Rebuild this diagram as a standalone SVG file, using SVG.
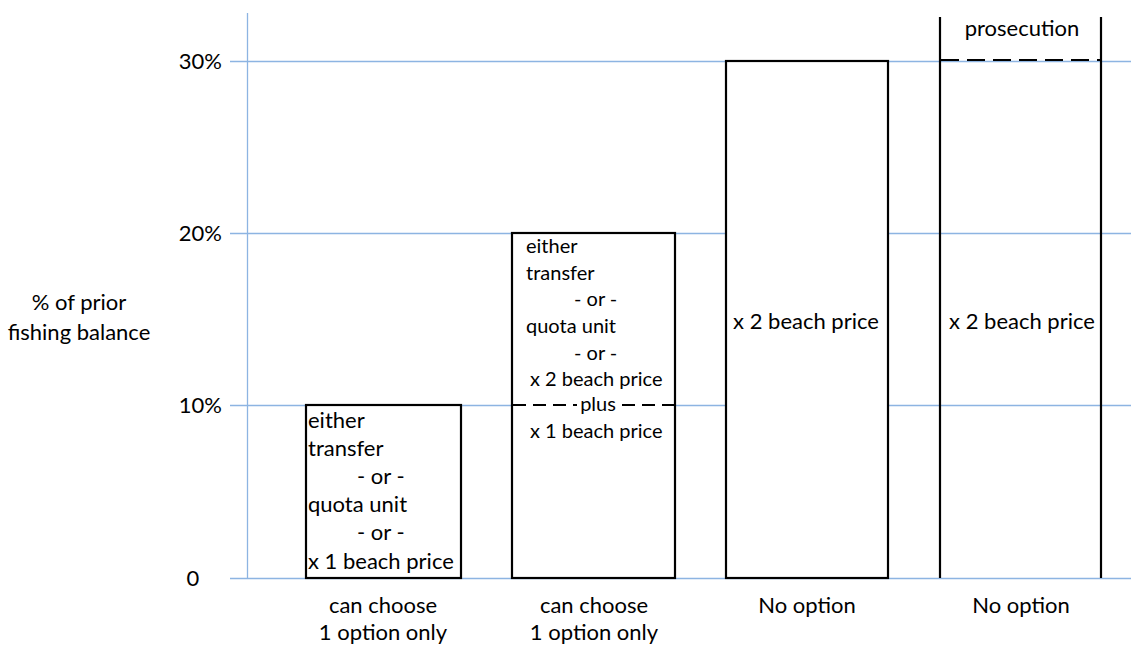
<svg xmlns="http://www.w3.org/2000/svg" width="1131" height="645" viewBox="0 0 1131 645">
<style>
text{font-family:Lato,"Open Sans","Liberation Sans",sans-serif;font-size:22px;fill:#000}
.c{text-anchor:middle}
.r{text-anchor:end}
.s{font-size:20px}
.grid{stroke:#8db4e2;stroke-width:1.3;fill:none}
.box{stroke:#000;stroke-width:2.2;fill:#fff}
.ln{stroke:#000;stroke-width:2.2;fill:none}
.dash{stroke:#000;stroke-width:2.2;stroke-dasharray:18,8;fill:none}
.dash2{stroke:#000;stroke-width:2.2;stroke-dasharray:13,7;fill:none}
</style>
<rect width="1131" height="645" fill="#fff"/>
<g id="axes">
<line class="grid" x1="247.5" y1="13" x2="247.5" y2="578"/>
<line class="grid" x1="230" y1="61.5" x2="1131" y2="61.5"/>
<line class="grid" x1="230" y1="233.5" x2="1131" y2="233.5"/>
<line class="grid" x1="230" y1="405.5" x2="1131" y2="405.5"/>
<line class="grid" x1="230" y1="578.5" x2="1131" y2="578.5"/>
<text class="r" x="222" y="69">30%</text>
<text class="r" x="222" y="241">20%</text>
<text class="r" x="222" y="413">10%</text>
<text class="c" x="193" y="586">0</text>
<text class="c" x="79" y="310">% of prior</text>
<text class="c" x="79" y="340">fishing balance</text>
</g>
<g id="bar1">
<rect class="box" x="306" y="405" width="155" height="173"/>
<text x="308" y="428">either</text>
<text x="308" y="456">transfer</text>
<text x="357" y="484">- or -</text>
<text x="308" y="512">quota unit</text>
<text x="357" y="540">- or -</text>
<text x="308" y="569">x 1 beach price</text>
<text class="c" x="383" y="613">can choose</text>
<text class="c" x="383" y="640">1 option only</text>
</g>
<g id="bar2">
<rect class="box" x="512" y="233" width="163" height="345"/>
<text class="s" x="526" y="253">either</text>
<text class="s" x="526" y="280">transfer</text>
<text class="s" x="574" y="306">- or -</text>
<text class="s" x="526" y="333">quota unit</text>
<text class="s" x="574" y="360">- or -</text>
<text class="s" x="530" y="386">x 2 beach price</text>
<line class="dash2" x1="513" y1="405" x2="577" y2="405"/>
<line class="dash2" x1="622" y1="405" x2="675" y2="405"/>
<text class="s c" x="598" y="411">plus</text>
<text class="s" x="530" y="438">x 1 beach price</text>
<text class="c" x="594" y="613">can choose</text>
<text class="c" x="594" y="640">1 option only</text>
</g>
<g id="bar3">
<rect class="box" x="726" y="61" width="162" height="517"/>
<text class="c" x="806" y="329">x 2 beach price</text>
<text class="c" x="807" y="613">No option</text>
</g>
<g id="bar4">
<line class="ln" x1="940" y1="17" x2="940" y2="578"/>
<line class="ln" x1="1101" y1="17" x2="1101" y2="578"/>
<line class="dash" x1="941" y1="60" x2="1100" y2="60"/>
<text class="c" x="1022" y="36">prosecution</text>
<text class="c" x="1022" y="329">x 2 beach price</text>
<text class="c" x="1021" y="613">No option</text>
</g>
</svg>
